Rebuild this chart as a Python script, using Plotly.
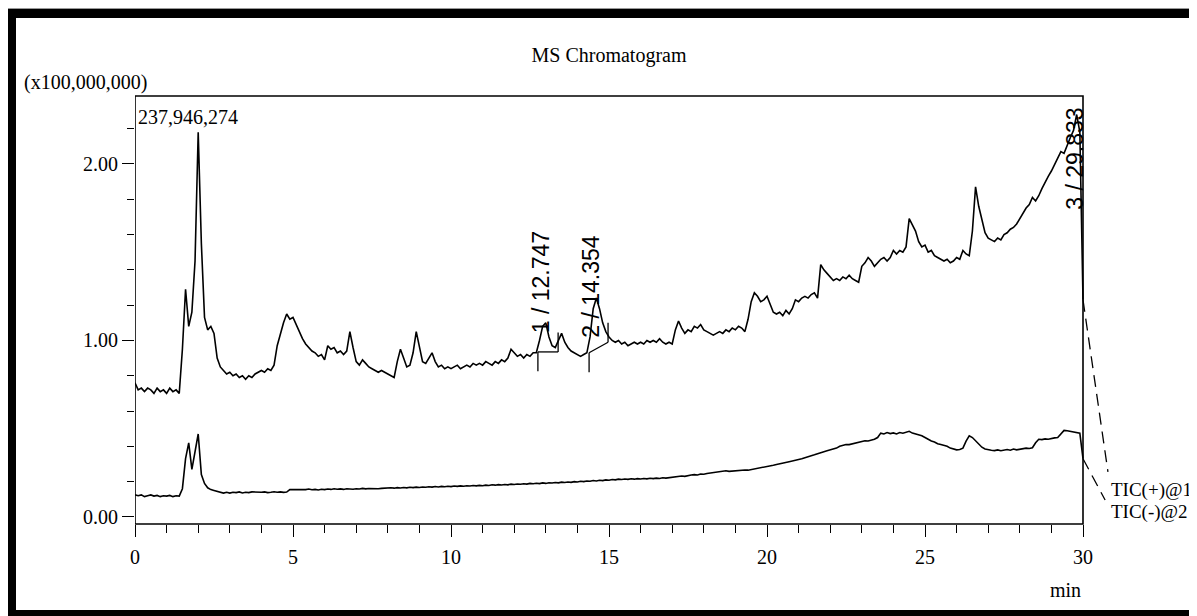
import plotly.graph_objects as go

# ---------------- data ----------------
t_start = 0.0      # min
t_step = 0.1       # sampling interval, min

# TIC(+)@1, units of 100,000,000
tic_pos = [
    0.76, 0.72, 0.73, 0.71, 0.73, 0.72, 0.70, 0.73, 0.71, 0.72,   # 0.0
    0.70, 0.73, 0.71, 0.72, 0.70, 0.95, 1.29, 1.08, 1.16, 1.45,   # 1.0
    2.18, 1.55, 1.13, 1.06, 1.08, 1.04, 0.90, 0.85, 0.83, 0.81,   # 2.0
    0.82, 0.80, 0.81, 0.79, 0.80, 0.78, 0.80, 0.79, 0.81, 0.82,   # 3.0
    0.83, 0.82, 0.84, 0.83, 0.86, 0.97, 1.04, 1.10, 1.15, 1.12,   # 4.0
    1.13, 1.09, 1.04, 1.01, 0.98, 0.96, 0.94, 0.93, 0.91, 0.92,   # 5.0
    0.89, 0.97, 0.95, 0.96, 0.93, 0.94, 0.92, 0.94, 1.05, 0.96,   # 6.0
    0.88, 0.86, 0.89, 0.87, 0.85, 0.84, 0.83, 0.82, 0.83, 0.82,   # 7.0
    0.81, 0.80, 0.79, 0.88, 0.95, 0.90, 0.85, 0.86, 0.93, 1.05,   # 8.0
    0.96, 0.88, 0.87, 0.90, 0.93, 0.88, 0.85, 0.86, 0.84, 0.85,   # 9.0
    0.84, 0.85, 0.86, 0.84, 0.85, 0.86, 0.85, 0.87, 0.86, 0.87,   # 10.0
    0.86, 0.88, 0.87, 0.86, 0.88, 0.87, 0.89, 0.88, 0.90, 0.95,   # 11.0
    0.93, 0.91, 0.92, 0.90, 0.92, 0.91, 0.93, 0.93, 1.00, 1.08,   # 12.0
    1.10, 1.02, 0.97, 0.96, 1.00, 1.04, 0.99, 0.96, 0.94, 0.93,   # 13.0
    0.92, 0.91, 0.92, 0.93, 1.02, 1.18, 1.24, 1.18, 1.10, 1.05,   # 14.0
    1.02, 1.00, 0.99, 1.00, 0.98, 0.99, 0.97, 0.98, 0.99, 0.98,   # 15.0
    0.99, 0.98, 1.00, 0.99, 1.00, 0.99, 1.01, 0.99, 0.98, 0.99,   # 16.0
    0.98, 1.06, 1.11, 1.07, 1.04, 1.06, 1.05, 1.08, 1.07, 1.09,   # 17.0
    1.06, 1.05, 1.04, 1.03, 1.04, 1.05, 1.04, 1.06, 1.05, 1.07,   # 18.0
    1.06, 1.08, 1.07, 1.05, 1.12, 1.22, 1.27, 1.25, 1.22, 1.23,   # 19.0
    1.25, 1.21, 1.16, 1.15, 1.16, 1.14, 1.17, 1.15, 1.18, 1.23,   # 20.0
    1.22, 1.24, 1.25, 1.24, 1.26, 1.27, 1.24, 1.43, 1.40, 1.38,   # 21.0
    1.36, 1.34, 1.35, 1.34, 1.36, 1.35, 1.37, 1.35, 1.34, 1.33,   # 22.0
    1.42, 1.44, 1.47, 1.45, 1.42, 1.44, 1.46, 1.47, 1.45, 1.47,   # 23.0
    1.51, 1.49, 1.51, 1.50, 1.53, 1.69, 1.65, 1.62, 1.56, 1.53,   # 24.0
    1.54, 1.50, 1.51, 1.48, 1.47, 1.46, 1.45, 1.46, 1.44, 1.45,   # 25.0
    1.47, 1.46, 1.51, 1.49, 1.48, 1.62, 1.87, 1.76, 1.68, 1.61,   # 26.0
    1.58, 1.57, 1.56, 1.58, 1.57, 1.60, 1.61, 1.63, 1.64, 1.66,   # 27.0
    1.69, 1.72, 1.75, 1.77, 1.81, 1.79, 1.82, 1.86, 1.90, 1.93,   # 28.0
    1.96, 2.00, 2.03, 2.07, 2.06, 2.11, 2.15, 2.19, 2.28, 2.18,   # 29.0
    1.23,                                                         # 30.0
]

# TIC(-)@2, units of 100,000,000
tic_neg = [
    0.125, 0.120, 0.125, 0.115, 0.120, 0.125, 0.118, 0.122, 0.115, 0.120,  # 0.0
    0.118, 0.122, 0.115, 0.120, 0.118, 0.160, 0.330, 0.420, 0.270, 0.360,  # 1.0
    0.470, 0.240, 0.190, 0.165, 0.155, 0.150, 0.145, 0.140, 0.135, 0.140,  # 2.0
    0.135, 0.140, 0.138, 0.142, 0.136, 0.140, 0.138, 0.142, 0.140, 0.138,  # 3.0
    0.140, 0.142, 0.138, 0.140, 0.143, 0.140, 0.142, 0.139, 0.141, 0.155,  # 4.0
    0.155, 0.152, 0.156, 0.153, 0.155, 0.158, 0.154, 0.156, 0.153, 0.157,  # 5.0
    0.155, 0.158, 0.156, 0.160, 0.157, 0.159, 0.156, 0.160, 0.158, 0.157,  # 6.0
    0.160, 0.158, 0.162, 0.159, 0.161, 0.160, 0.163, 0.160, 0.162, 0.164,  # 7.0
    0.162, 0.165, 0.163, 0.166, 0.164, 0.167, 0.165, 0.168, 0.166, 0.169,  # 8.0
    0.167, 0.170, 0.168, 0.171, 0.169, 0.172, 0.170, 0.173, 0.171, 0.174,  # 9.0
    0.172, 0.175, 0.173, 0.176, 0.174, 0.177, 0.175, 0.178, 0.176, 0.179,  # 10.0
    0.177, 0.180, 0.178, 0.182, 0.180, 0.183, 0.181, 0.184, 0.182, 0.186,  # 11.0
    0.184, 0.187, 0.185, 0.188, 0.186, 0.190, 0.188, 0.191, 0.189, 0.193,  # 12.0
    0.190, 0.194, 0.192, 0.195, 0.193, 0.197, 0.195, 0.198, 0.196, 0.200,  # 13.0
    0.198, 0.202, 0.200, 0.204, 0.202, 0.206, 0.204, 0.208, 0.206, 0.210,  # 14.0
    0.208, 0.212, 0.210, 0.214, 0.212, 0.215, 0.213, 0.216, 0.214, 0.217,  # 15.0
    0.215, 0.218, 0.216, 0.219, 0.217, 0.220, 0.218, 0.222, 0.220, 0.223,  # 16.0
    0.222, 0.226, 0.228, 0.232, 0.230, 0.235, 0.238, 0.240, 0.238, 0.243,  # 17.0
    0.242, 0.246, 0.248, 0.250, 0.252, 0.255, 0.258, 0.262, 0.258, 0.260,  # 18.0
    0.260, 0.264, 0.262, 0.266, 0.265, 0.268, 0.272, 0.275, 0.278, 0.282,  # 19.0
    0.285, 0.290, 0.293, 0.297, 0.300, 0.305, 0.310, 0.313, 0.317, 0.320,  # 20.0
    0.325, 0.330, 0.336, 0.340, 0.346, 0.352, 0.358, 0.362, 0.370, 0.375,  # 21.0
    0.380, 0.385, 0.390, 0.400, 0.405, 0.410, 0.410, 0.415, 0.420, 0.425,  # 22.0
    0.430, 0.432, 0.430, 0.435, 0.440, 0.450, 0.475, 0.470, 0.478, 0.472,  # 23.0
    0.476, 0.470, 0.478, 0.474, 0.480, 0.485, 0.475, 0.470, 0.465, 0.460,  # 24.0
    0.450, 0.440, 0.430, 0.425, 0.415, 0.410, 0.405, 0.400, 0.390, 0.385,  # 25.0
    0.380, 0.382, 0.390, 0.430, 0.460, 0.450, 0.430, 0.410, 0.395, 0.385,  # 26.0
    0.380, 0.378, 0.376, 0.380, 0.375, 0.378, 0.382, 0.378, 0.385, 0.380,  # 27.0
    0.383, 0.386, 0.390, 0.388, 0.392, 0.420, 0.440, 0.438, 0.442, 0.440,  # 28.0
    0.445, 0.448, 0.450, 0.470, 0.490, 0.488, 0.485, 0.480, 0.478, 0.475,  # 29.0
    0.330,                                                                 # 30.0
]

series_names = ["TIC(+)@1", "TIC(-)@2"]
series_label_t = [30.82, 30.82]        # label positions (min)
series_label_v = [0.153, 0.028]
connector_end_t = [30.79, 30.70]
connector_end_v = [0.255, 0.096]

peak_labels = ["1 / 12.747", "2 / 14.354", "3 / 29.833"]
peak_label_t = [12.85, 14.43, 29.75]
peak_label_v = [1.33, 1.31, 2.03]

peak_start_t = [12.75, 14.37]
peak_end_t = [13.39, 14.97]
peak_base_start = [0.935, 0.930]
peak_base_end = [0.935, 0.990]

max_intensity_text = "237,946,274"
y_scale_text = "(x100,000,000)"
x_major_ticks = [0, 5, 10, 15, 20, 25, 30]
x_minor_ticks = list(range(0, 31))
y_major_ticks = [0.0, 1.0, 2.0]
y_minor_ticks = [0.0, 0.2, 0.4, 0.6, 0.8, 1.0, 1.2, 1.4, 1.6, 1.8, 2.0, 2.2]

# ---------------- layout constants ----------------
OFF = 8                      # page body margin in the browser
W, H = 1197 - OFF, 616 - OFF
ML, MR, MT, MB = 135 - OFF, 35, 96 - OFF, 92
PW, PH = W - ML - MR, H - MT - MB
X_RANGE = [0, 32.5]
Y_RANGE = [-0.04, 2.385]
MARK_LEN = 0.11
SERIF = "Liberation Serif"
SANS = "Liberation Sans"


def px_x(px):
    """reference-window pixel x -> paper x"""
    return (px - OFF - ML) / PW


def px_y(py):
    """reference-window pixel y -> paper y"""
    return (H - MB - (py - OFF)) / PH


times = [round(t_start + i * t_step, 3) for i in range(len(tic_pos))]

fig = go.Figure()
line_style = dict(color="black", width=1.6)
fig.add_trace(go.Scatter(x=times, y=tic_pos, mode="lines", line=line_style,
                         name=series_names[0], hoverinfo="skip"))
fig.add_trace(go.Scatter(x=times, y=tic_neg, mode="lines", line=line_style,
                         name=series_names[1], hoverinfo="skip"))

# connectors from trace ends to labels
for ys, et, ev in zip([tic_pos, tic_neg], connector_end_t, connector_end_v):
    fig.add_trace(go.Scatter(x=[times[-1], et], y=[ys[-1], ev], mode="lines",
                             line=dict(color="black", width=1.3, dash="12px,7px"),
                             hoverinfo="skip"))

# peak integration markers
for st, et, bs, be in zip(peak_start_t, peak_end_t, peak_base_start, peak_base_end):
    fig.add_trace(go.Scatter(
        x=[st, st, None, st, et, None, et, et],
        y=[bs - MARK_LEN, bs, None, bs, be, None, be, be + MARK_LEN],
        mode="lines", line=dict(color="black", width=1.3), hoverinfo="skip"))

# invisible trace that carries the minor-tick overlay axis
fig.add_trace(go.Scatter(x=[x_minor_ticks[0]], y=[y_major_ticks[0]], xaxis="x2",
                         mode="markers", marker=dict(opacity=0), hoverinfo="skip"))

shapes = []
# plot frame (0..30 min)
shapes.append(dict(type="rect", xref="x", yref="paper", x0=0, x1=30, y0=0, y1=1,
                   line=dict(color="black", width=1.6), layer="above"))
# outer thick border
shapes.append(dict(type="rect", xref="paper", yref="paper", x0=px_x(7), x1=px_x(16),
                   y0=px_y(618), y1=px_y(9), fillcolor="black", line=dict(width=0)))
shapes.append(dict(type="rect", xref="paper", yref="paper", x0=px_x(7), x1=px_x(1197),
                   y0=px_y(18), y1=px_y(9), fillcolor="black", line=dict(width=0)))
shapes.append(dict(type="rect", xref="paper", yref="paper", x0=px_x(7), x1=px_x(1197),
                   y0=px_y(618), y1=px_y(610), fillcolor="black", line=dict(width=0)))
shapes.append(dict(type="line", xref="paper", yref="paper", x0=px_x(1195.5), x1=px_x(1195.5),
                   y0=px_y(616), y1=px_y(9), line=dict(color="#777777", width=1.2)))
shapes.append(dict(type="line", xref="paper", yref="paper", x0=px_x(7), x1=px_x(1197),
                   y0=px_y(8.5), y1=px_y(8.5), line=dict(color="#999999", width=1)))

annotations = [
    dict(text=y_scale_text, xref="paper", yref="paper", x=px_x(22), y=px_y(82),
         xanchor="left", yanchor="middle", showarrow=False, font=dict(size=20)),
    dict(text=max_intensity_text, xref="paper", yref="paper", x=px_x(136), y=px_y(117),
         xanchor="left", yanchor="middle", showarrow=False, font=dict(size=20)),
    dict(text="min", xref="x", yref="paper", x=30, y=px_y(590),
         xanchor="right", yanchor="middle", showarrow=False, font=dict(size=20)),
]
for name, lt, lv in zip(series_names, series_label_t, series_label_v):
    annotations.append(dict(text=name, xref="x", yref="y", x=lt, y=lv, xanchor="left",
                            yanchor="middle", showarrow=False, font=dict(size=19)))
for txt, lt, lv in zip(peak_labels, peak_label_t, peak_label_v):
    annotations.append(dict(text=txt, xref="x", yref="y", x=lt, y=lv, textangle=-90,
                            xanchor="center", yanchor="middle", showarrow=False,
                            font=dict(family=SANS, size=23)))

tick_common = dict(ticks="outside", tickcolor="black", tickwidth=1.4, showgrid=False,
                   zeroline=False, showline=False)

fig.update_layout(
    width=W, height=H, autosize=False,
    margin=dict(l=ML, r=MR, t=MT, b=MB, pad=0),
    paper_bgcolor="white", plot_bgcolor="white", showlegend=False,
    font=dict(family=SERIF, size=20, color="black"),
    title=dict(text="MS Chromatogram", xref="container", yref="container",
               x=(609 - OFF) / W, y=1 - (55 - OFF) / H, xanchor="center", yanchor="middle",
               font=dict(family=SERIF, size=20)),
    xaxis=dict(range=X_RANGE, tickmode="array", tickvals=x_major_ticks, ticklen=12,
               ticklabelstandoff=3, tickfont=dict(size=20), **tick_common),
    xaxis2=dict(range=X_RANGE, overlaying="x", anchor="y", side="bottom",
                tickmode="array", tickvals=x_minor_ticks, ticklen=8,
                showticklabels=False, **tick_common),
    yaxis=dict(range=Y_RANGE, tickmode="array", tickvals=y_major_ticks, tickformat=".2f",
               ticklen=12, tickfont=dict(size=20),
               minor=dict(tickmode="array", tickvals=y_minor_ticks, ticks="outside",
                          ticklen=7, tickwidth=1.4, tickcolor="black", showgrid=False),
               **tick_common),
    shapes=shapes,
    annotations=annotations,
)

fig.write_html("out.html")
